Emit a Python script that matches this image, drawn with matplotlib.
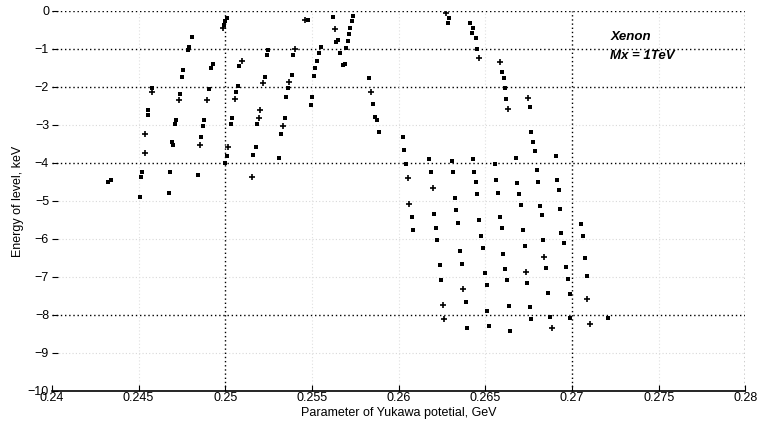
import numpy as np
import matplotlib
matplotlib.use('Agg')
import matplotlib.pyplot as plt

plt.rcParams['font.family'] = ['Liberation Sans', 'DejaVu Sans']

# points drawn as small squares
x_sq = [0.24323, 0.24340, 0.24507, 0.24513, 0.24519, 0.24553, 0.24553, 0.24576,
        0.24674, 0.24680, 0.24692, 0.24697, 0.24709, 0.24715, 0.24738, 0.24749,
        0.24755, 0.24784, 0.24790, 0.24807, 0.24841, 0.24859, 0.24870, 0.24876,
        0.24905, 0.24916, 0.24928, 0.24991, 0.24997, 0.25009, 0.24997, 0.25009,
        0.25032, 0.25037, 0.25061, 0.25072, 0.25078, 0.25159, 0.25176, 0.25182,
        0.25228, 0.25239, 0.25245, 0.25308, 0.25320, 0.25343, 0.25349, 0.25360,
        0.25383, 0.25389, 0.25476, 0.25493, 0.25499, 0.25510, 0.25516, 0.25527,
        0.25539, 0.25550, 0.25620, 0.25637, 0.25648, 0.25660, 0.25677, 0.25689,
        0.25695, 0.25706, 0.25712, 0.25718, 0.25729, 0.25735, 0.25827, 0.25850,
        0.25862, 0.25873, 0.25885,
        0.26282, 0.26288, 0.26409, 0.26427, 0.26421, 0.26444, 0.26450, 0.26594,
        0.26605, 0.26611, 0.26617, 0.26755, 0.26761, 0.26772, 0.26784, 0.26795,
        0.26801, 0.26905, 0.26916, 0.26922, 0.26023, 0.26029, 0.26040, 0.26075,
        0.26081, 0.26173, 0.26184, 0.26202, 0.26213, 0.26219, 0.26236, 0.26242,
        0.26305, 0.26311, 0.26323, 0.26328, 0.26340, 0.26352, 0.26363, 0.26386,
        0.26392, 0.26427, 0.26432, 0.26444, 0.26450, 0.26461, 0.26473, 0.26484,
        0.26496, 0.26507, 0.26507, 0.26519, 0.26553, 0.26559, 0.26571, 0.26582,
        0.26594, 0.26599, 0.26611, 0.26622, 0.26634, 0.26640, 0.26674, 0.26680,
        0.26692, 0.26703, 0.26715, 0.26726, 0.26738, 0.26755, 0.26761, 0.26813,
        0.26824, 0.26830, 0.26847, 0.26859, 0.26870, 0.26928, 0.26939, 0.26951,
        0.26963, 0.26974, 0.26986, 0.26991, 0.27049, 0.27061, 0.27072, 0.27084,
        0.27210]
y_sq = [-4.51, -4.44, -4.91, -4.36, -4.23, -2.73, -2.60, -2.02,
        -4.78, -4.25, -3.44, -3.52, -2.99, -2.86, -2.20, -1.73,
        -1.55, -1.02, -0.94, -0.68, -4.33, -3.33, -3.02, -2.86,
        -2.05, -1.50, -1.39, -0.37, -0.26, -0.18, -3.99, -3.81,
        -2.99, -2.83, -2.13, -1.99, -1.44, -3.78, -3.57, -2.99,
        -1.73, -1.15, -1.02, -3.86, -3.25, -2.81, -2.26, -2.02,
        -1.68, -1.15, -0.24, -2.49, -2.26, -1.71, -1.50, -1.31,
        -1.10, -0.94, -0.16, -0.81, -0.76, -1.10, -1.42, -1.39,
        -0.97, -0.79, -0.60, -0.45, -0.26, -0.13, -1.78, -2.44,
        -2.78, -2.86, -3.20,
        -0.31, -0.18, -0.31, -0.45, -0.58, -0.71, -1.00, -1.60,
        -1.78, -2.02, -2.31, -2.52, -3.18, -3.44, -3.70, -4.20,
        -4.49, -3.81, -4.46, -4.72, -3.31, -3.67, -4.02, -5.43,
        -5.77, -3.91, -4.25, -5.35, -5.70, -6.04, -6.69, -7.09,
        -3.94, -4.25, -4.93, -5.25, -5.59, -6.33, -6.67, -7.66,
        -8.35, -3.91, -4.25, -4.51, -4.83, -5.51, -5.93, -6.25,
        -6.90, -7.22, -7.90, -8.29, -4.02, -4.46, -4.78, -5.43,
        -5.72, -6.40, -6.80, -7.09, -7.77, -8.43, -3.88, -4.54,
        -4.83, -5.12, -5.77, -6.19, -7.17, -7.80, -8.11, -5.14,
        -5.38, -6.04, -6.77, -7.43, -8.06, -5.20, -5.85, -6.12,
        -6.75, -7.06, -7.45, -8.08, -5.62, -5.91, -6.51, -6.98,
        -8.08]

# points drawn as plus signs
x_plus = [0.24536, 0.24536, 0.24576, 0.24732, 0.24853, 0.24893, 0.24986, 0.25014,
          0.25055, 0.25095, 0.25153, 0.25193, 0.25199, 0.25216, 0.25331, 0.25366,
          0.25401, 0.25458, 0.25631, 0.25839, 0.26271, 0.26461, 0.26582, 0.26628,
          0.26744, 0.26052, 0.26058, 0.26196, 0.26254, 0.26259, 0.26369, 0.26732,
          0.26841, 0.26882, 0.27089, 0.27101]
y_plus = [-3.73, -3.23, -2.13, -2.34, -3.52, -2.34, -0.45, -3.57,
          -2.31, -1.31, -4.38, -2.81, -2.60, -1.89, -3.02, -1.86,
          -1.00, -0.24, -0.47, -2.13, -0.05, -1.23, -1.34, -2.57,
          -2.28, -4.41, -5.09, -4.67, -7.74, -8.11, -7.32, -6.88,
          -6.48, -8.35, -7.59, -8.24]

x_ticks = [0.24, 0.245, 0.25, 0.255, 0.26, 0.265, 0.27, 0.275, 0.28]
x_tick_labels = ['0.24', '0.245', '0.25', '0.255', '0.26', '0.265', '0.27', '0.275', '0.28']
y_ticks = list(range(-10, 1))

fig = plt.figure(figsize=(7.63, 4.33), dpi=100)
ax = fig.add_axes([0.068, 0.097, 0.909, 0.878])

# grid: faded lines and the darker ones as they show in the scan
dark_y = [0, -1, -2, -4, -8]
dark_x = [0.25, 0.27, 0.28]
for yv in y_ticks[1:]:
    dark = yv in dark_y
    ax.axhline(yv, color='black' if dark else '#d8d8d8', ls=(0, (1, 2)),
               lw=1.0 if dark else 0.8, zorder=1)
for xv in x_ticks[1:]:
    dark = xv in dark_x
    ax.axvline(xv, color='black' if dark else '#e0e0e0', ls=(0, (1, 2)),
               lw=1.0 if dark else 0.8, zorder=1)

ax.plot(x_sq, y_sq, 's', color='black', ms=2.3, mew=0, zorder=3)
ax.plot(x_plus, y_plus, '+', color='black', ms=4, mew=1.2, zorder=3)

ax.set_xlim(0.24, 0.28)
ax.set_ylim(-10, 0)
ax.set_xticks(x_ticks)
ax.set_xticklabels(x_tick_labels)
ax.set_yticks(y_ticks)
ax.tick_params(direction='in', length=4, width=0.8, labelsize=9, pad=2)
ax.tick_params(axis='x', pad=1)

for side in ['top', 'right', 'left']:
    ax.spines[side].set_visible(False)
ax.spines['bottom'].set_linewidth(1.2)

ax.set_xlabel('Parameter of Yukawa potetial, GeV', fontsize=9, labelpad=2)
ax.set_ylabel('Energy of level, keV', fontsize=9, labelpad=3)

ax.text(0.2722, -0.7, 'Xenon', fontsize=9.5, fontweight='bold', style='italic', va='center')
ax.text(0.2722, -1.2, 'Mx = 1TeV', fontsize=9.5, fontweight='bold', style='italic', va='center')

plt.savefig('out.png', dpi=100)
